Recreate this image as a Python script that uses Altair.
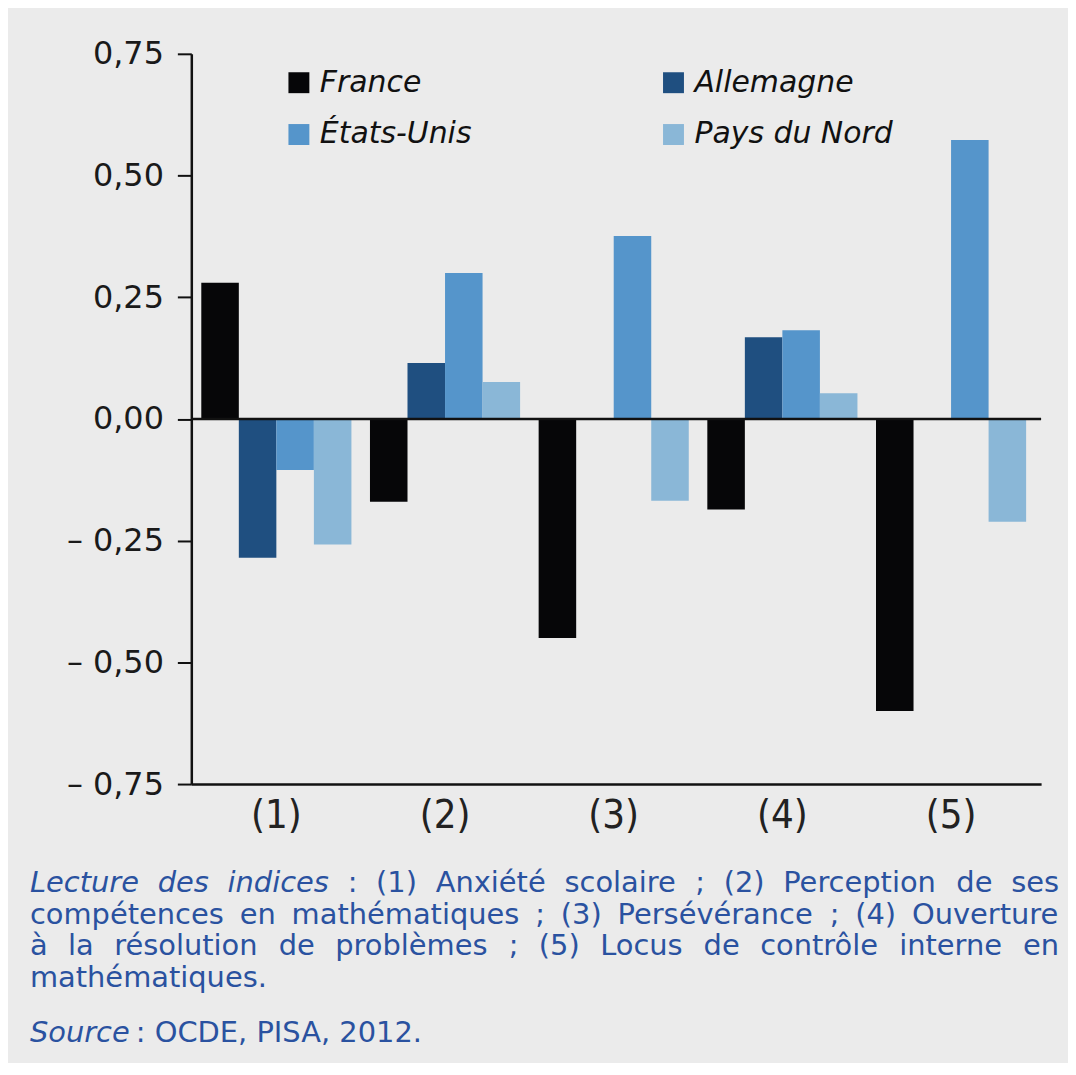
import altair as alt
import pandas as pd

# ---------------- data ----------------
indices = ["(1)", "(2)", "(3)", "(4)", "(5)"]
countries = ["France", "Allemagne", "États-Unis", "Pays du Nord"]
france = [0.28, -0.17, -0.45, -0.186, -0.60]
allemagne = [-0.285, 0.115, 0.0, 0.168, 0.0]
etats_unis = [-0.105, 0.30, 0.376, 0.182, 0.573]
pays_du_nord = [-0.258, 0.076, -0.168, 0.053, -0.211]
colors = ["#060608", "#1f4f80", "#5595cb", "#8ab7d7"]
y_ticks = [-0.75, -0.5, -0.25, 0.0, 0.25, 0.5, 0.75]

# caption lines: (word, style)
cap_line1 = [("Lecture", "i"), ("des", "i"), ("indices", "i"), (":", "n"), ("(1)", "n"),
             ("Anxiété", "n"), ("scolaire", "n"), (";", "n"), ("(2)", "n"),
             ("Perception", "n"), ("de", "n"), ("ses", "n")]
cap_line2 = [("compétences", "n"), ("en", "n"), ("mathématiques", "n"), (";", "n"),
             ("(3)", "n"), ("Persévérance", "n"), (";", "n"), ("(4)", "n"), ("Ouverture", "n")]
cap_line3 = [("à", "n"), ("la", "n"), ("résolution", "n"), ("de", "n"), ("problèmes", "n"),
             (";", "n"), ("(5)", "n"), ("Locus", "n"), ("de", "n"), ("contrôle", "n"),
             ("interne", "n"), ("en", "n")]
cap_line4 = [("mathématiques.", "n")]
source_it = "Source"
source_rest = ": OCDE, PISA, 2012."

# ---------------- layout ----------------
W, H = 853, 733
PAD_L, PAD_T = 184, 44
CAP_SIZE = 29
CAP_COLOR = "#2a52a0"

# DejaVu Sans advance widths (em)
DV = {" ": .318, "(": .390, ")": .390, ",": .318, "-": .361, ".": .318, ":": .337, ";": .337,
      "A": .684, "C": .698, "D": .770, "E": .632, "É": .632, "I": .295, "L": .557, "N": .748,
      "O": .787, "P": .603, "S": .635, "U": .732,
      "a": .613, "à": .613, "b": .635, "c": .550, "d": .635, "e": .615, "é": .615, "è": .615,
      "f": .352, "g": .635, "h": .634, "i": .278, "l": .278, "m": .974, "n": .634, "o": .612,
      "ô": .612, "p": .635, "q": .635, "r": .411, "s": .521, "t": .392, "u": .634, "v": .592,
      "x": .592, "y": .592}
for d in "0123456789":
    DV[d] = .636


def tw(s, size):
    return sum(DV.get(ch, .6) for ch in s) * size


left_px, right_px = 30 - (8 + PAD_L), 1063 - (8 + PAD_L)
rows = []


def justify(words, base_y, just=True):
    widths = [tw(w, CAP_SIZE) for w, _ in words]
    if just and len(words) > 1:
        gap = (right_px - left_px - sum(widths)) / (len(words) - 1)
    else:
        gap = tw(" ", CAP_SIZE)
    x = left_px
    for (w, st), wd in zip(words, widths):
        rows.append({"mot": w, "style": st, "px": x, "py": base_y})
        x += wd + gap


base0 = 893 - (8 + PAD_T)
justify(cap_line1, base0)
justify(cap_line2, base0 + 32)
justify(cap_line3, base0 + 64)
justify(cap_line4, base0 + 96, just=False)
src_y = 1044 - (8 + PAD_T)
rows.append({"mot": source_it, "style": "i", "px": left_px, "py": src_y})
rows.append({"mot": source_rest, "style": "n", "px": left_px + tw(source_it, CAP_SIZE) + 6, "py": src_y})
cap_df = pd.DataFrame(rows)

recs = []
for i, idx in enumerate(indices):
    for c, vals in zip(countries, [france, allemagne, etats_unis, pays_du_nord]):
        recs.append({"indice": idx, "pays": c, "valeur": vals[i]})
df = pd.DataFrame(recs)

label_expr = ("datum.value < -0.0001 ? '– ' + replace(format(-datum.value, '.2f'), '.', ',') : "
              "replace(format(abs(datum.value), '.2f'), '.', ',')")

bars = alt.Chart(df).mark_bar().encode(
    x=alt.X("indice:N", sort=indices,
            scale=alt.Scale(paddingInner=0.11, paddingOuter=0.074, align=0.4),
            axis=alt.Axis(title=None, labelAngle=0, ticks=False, domainColor="#111",
                          domainWidth=2.5, labelFont="Liberation Sans Narrow, DejaVu Sans Condensed, Liberation Sans",
                          labelFontSize=40, labelColor="#222", labelPadding=12)),
    xOffset=alt.XOffset("pays:N", sort=countries),
    y=alt.Y("valeur:Q", scale=alt.Scale(domain=[-0.75, 0.75], nice=False, zero=False),
            axis=alt.Axis(title=None, values=y_ticks, labelExpr=label_expr, grid=False,
                          tickSize=14, tickWidth=2, tickColor="#111", domainColor="#111",
                          domainWidth=2.5, labelFont="DejaVu Sans", labelFontSize=32,
                          labelPadding=14, labelColor="#1a1a1a")),
    color=alt.Color("pays:N", sort=countries,
                    scale=alt.Scale(domain=countries, range=colors),
                    legend=alt.Legend(title=None, orient="none", legendX=93, legendY=14,
                                      direction="horizontal", columns=2, columnPadding=187,
                                      rowPadding=22, symbolType="square", symbolSize=441,
                                      symbolStrokeWidth=0, labelFont="DejaVu Sans",
                                      labelFontStyle="italic", labelFontSize=30,
                                      labelColor="#111", labelOffset=6, padding=0,
                                      labelLimit=400)),
)

zero = alt.Chart(pd.DataFrame({"v": [0.0]})).mark_rule(color="#111", strokeWidth=2.5).encode(
    y=alt.Y("v:Q")
)

inner = alt.layer(bars, zero)

cap_base = alt.Chart(cap_df).encode(
    x=alt.X("px:Q", scale=alt.Scale(domain=[0, W], nice=False, zero=False), axis=None),
    y=alt.Y("py:Q", scale=alt.Scale(domain=[0, H], reverse=True, nice=False, zero=False), axis=None),
    text="mot:N",
)
cap_it = cap_base.transform_filter("datum.style == 'i'").mark_text(
    align="left", baseline="alphabetic", font="DejaVu Sans", fontSize=CAP_SIZE,
    fontStyle="italic", color=CAP_COLOR)
cap_rg = cap_base.transform_filter("datum.style == 'n'").mark_text(
    align="left", baseline="alphabetic", font="DejaVu Sans", fontSize=CAP_SIZE,
    color=CAP_COLOR)

chart = alt.layer(inner, cap_it, cap_rg).resolve_scale(
    x="independent", y="independent"
).properties(
    width=W, height=H, background="#ebebeb",
    padding={"left": PAD_L, "top": PAD_T, "right": 27, "bottom": 278},
    autosize=alt.AutoSizeParams(type="none"),
).configure(
    font="DejaVu Sans",
    view=alt.ViewConfig(stroke="transparent", strokeWidth=0),
)

chart.save("out.html", embed_options={"renderer": "svg", "actions": False})
